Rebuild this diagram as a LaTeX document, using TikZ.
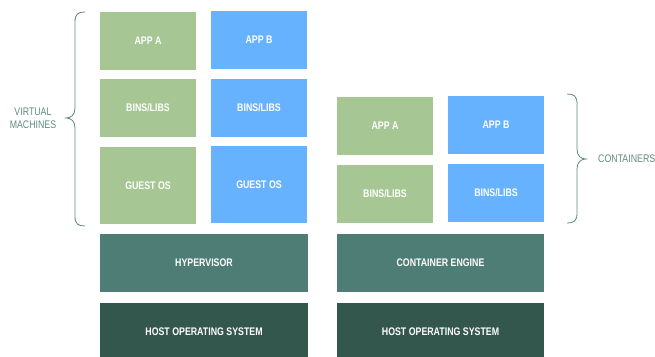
\documentclass[tikz,border=0pt]{standalone}
\usepackage{fontspec}
\setmainfont{Liberation Sans}[FakeStretch=0.8]
\definecolor{appgreen}{HTML}{A6C794}
\definecolor{appblue}{HTML}{66B2FF}
\definecolor{midteal}{HTML}{4D7D74}
\definecolor{darkteal}{HTML}{33574D}
\definecolor{labelcol}{HTML}{5F8A80}
\begin{document}
\begin{tikzpicture}[x=1pt,y=-1pt,
  box/.style={inner sep=0pt, minimum width=96pt, text=white, font=\fontsize{11}{13}\selectfont\bfseries},
  gbox/.style={box, fill=appgreen},
  bbox/.style={box, fill=appblue},
  wide/.style={box, minimum width=207pt, minimum height=58pt},
  lbl/.style={text=labelcol, font=\fontsize{11}{13}\selectfont, inner sep=0pt},
  brace/.style={draw=labelcol, line width=0.8pt}
]
\useasboundingbox (0,0) rectangle (655,356);
\clip (0,0) rectangle (655,356);
% Virtual machines
\node[gbox, minimum height=58pt] (vmappa) at (148,41) {APP A};
\node[gbox, minimum height=58pt] (vmbinsa) at (148,108) {BINS/LIBS};
\node[gbox, minimum height=77pt] (vmosa) at (148,185.5) {GUEST OS};
\node[bbox, minimum height=58pt] (vmappb) at (259,40) {APP B};
\node[bbox, minimum height=58pt] (vmbinsb) at (259,108) {BINS/LIBS};
\node[bbox, minimum height=77pt] (vmosb) at (259,184.5) {GUEST OS};
\node[wide, fill=midteal, minimum width=208pt] (hyper) at (204,263) {HYPERVISOR};
\node[wide, fill=darkteal, minimum width=208pt] (hostl) at (204,332) {HOST OPERATING SYSTEM};
% Containers
\node[gbox, minimum height=58pt] (ctappa) at (385,126) {APP A};
\node[gbox, minimum height=58pt] (ctbinsa) at (385,193.5) {BINS/LIBS};
\node[bbox, minimum height=58pt] (ctappb) at (496,125) {APP B};
\node[bbox, minimum height=58pt] (ctbinsb) at (496,192.5) {BINS/LIBS};
\node[wide, fill=midteal] (engine) at (440.5,263) {CONTAINER ENGINE};
\node[wide, fill=darkteal] (hostr) at (440.5,332) {HOST OPERATING SYSTEM};
% Braces
\draw[brace] (85,12) .. controls (78,12) and (75,14) .. (75,22) -- (75,108)
  .. controls (75,115) and (71,118) .. (66,118)
  .. controls (71,118) and (75,121) .. (75,128) -- (75,216)
  .. controls (75,224) and (78,226) .. (85,226);
\draw[brace] (567,94) .. controls (574,94) and (577,96) .. (577,104) -- (577,149)
  .. controls (577,156) and (581,159) .. (586,159)
  .. controls (581,159) and (577,162) .. (577,169) -- (577,213)
  .. controls (577,221) and (574,223) .. (567,223);
\node[lbl, align=center] (vmlabel) at (33,118.5) {VIRTUAL\\MACHINES};
\node[lbl, anchor=west] (ctlabel) at (598,159) {CONTAINERS};
\end{tikzpicture}
\end{document}
